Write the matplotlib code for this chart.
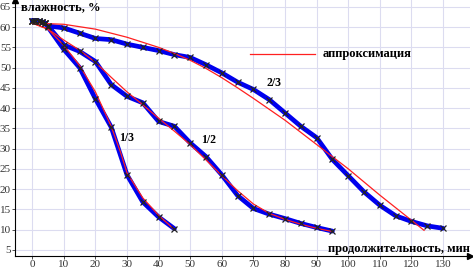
import numpy as np
import matplotlib.pyplot as plt

# measured curves (time, min / moisture, %)
t_13 = [0, 1, 2, 3, 4, 5, 10, 15, 20, 25, 30, 35, 40, 45]
w_13 = [61.6, 61.6, 61.5, 61.3, 61.0, 60.0, 54.5, 50.0, 42.3, 35.3, 23.5, 16.8, 13.1, 10.2]

t_12 = [0, 1, 2, 3, 4, 5, 10, 15, 20, 25, 30, 35, 40, 45, 50, 55, 60, 65, 70, 75, 80, 85, 90, 95]
w_12 = [61.6, 61.6, 61.5, 61.3, 61.0, 60.3, 55.6, 54.0, 51.5, 45.8, 42.9, 41.3, 36.7, 35.5,
        31.4, 28.0, 23.5, 18.4, 15.2, 13.8, 12.7, 11.5, 10.5, 9.6]

t_23 = [0, 1, 2, 3, 4, 5, 10, 15, 20, 25, 30, 35, 40, 45, 50, 55, 60, 65, 70, 75, 80, 85,
        90, 95, 100, 105, 110, 115, 120, 125, 130]
w_23 = [61.6, 61.6, 61.5, 61.3, 61.0, 60.3, 59.8, 58.5, 57.2, 56.9, 55.8, 55.0, 54.2, 53.2,
        52.5, 50.7, 48.7, 46.4, 44.6, 42.1, 38.8, 35.5, 32.7, 27.3, 23.3, 19.3, 16.0, 13.4,
        12.0, 10.9, 10.3]

# approximation curves
ta_13 = [0, 5, 10, 15, 20, 25, 28, 30, 35, 40, 45]
wa_13 = [61.0, 59.5, 55.5, 50.5, 44.0, 35.5, 29.0, 24.0, 17.8, 13.5, 10.0]

ta_12 = [0, 5, 10, 15, 20, 25, 30, 35, 40, 45, 50, 55, 60, 65, 70, 75, 80, 85, 90, 95]
wa_12 = [61.0, 59.5, 56.8, 54.3, 51.3, 47.6, 44.0, 40.8, 37.5, 34.3, 31.0, 27.2, 23.3, 19.6,
         16.3, 14.0, 12.5, 11.3, 10.3, 9.5]

ta_23 = [0, 10, 20, 30, 40, 45, 50, 55, 60, 65, 70, 80, 90, 100, 110, 120, 124]
wa_23 = [61.0, 60.7, 59.5, 57.5, 55.0, 53.5, 51.8, 49.8, 47.5, 45.0, 42.4, 37.0, 31.0, 25.0,
         18.5, 12.3, 9.8]

plt.rcParams['font.family'] = ['Liberation Serif', 'DejaVu Serif']

fig = plt.figure(figsize=(4.73, 2.72), dpi=100)
ax = fig.add_axes([0.032, 0.058, 0.962, 0.942])
ax.set_xlim(-5.4, 138.6)
ax.set_ylim(3.4, 66.7)

ax.set_xticks(range(0, 131, 10))
ax.set_yticks(range(5, 66, 5))
ax.grid(True, color='#dcdcf0', lw=0.8)
ax.set_axisbelow(True)
ax.tick_params(labelsize=8, length=2, width=0.6, pad=1, colors='#333333')
ax.tick_params(axis='x', pad=0.5)
for s in ['top', 'right']:
    ax.spines[s].set_visible(False)
for s in ['left', 'bottom']:
    ax.spines[s].set_linewidth(0.8)
ax.plot(1, 0, '>k', ms=4, transform=ax.transAxes, clip_on=False)
ax.plot(0, 1, '^k', ms=4, transform=ax.transAxes, clip_on=False)

for t, w in [(t_13, w_13), (t_12, w_12), (t_23, w_23)]:
    ax.plot(t, w, color='#0000ee', lw=3.4, solid_joinstyle='round', solid_capstyle='round', zorder=2)
    ax.plot(t, w, 'x', color='#222222', ms=4.5, mew=0.9, zorder=4)

for t, w in [(ta_13, wa_13), (ta_12, wa_12), (ta_23, wa_23)]:
    ax.plot(t, w, color='#ff2020', lw=0.9, zorder=3)

ax.plot([69, 89.5], [53.3, 53.3], color='#ff2020', lw=0.9)
ax.text(92, 53.3, 'аппроксимация', fontsize=9, fontweight='bold', va='center')

ax.text(27.5, 32.5, '1/3', fontsize=8.5, fontweight='bold', va='center')
ax.text(53.5, 32.2, '1/2', fontsize=8.5, fontweight='bold', va='center')
ax.text(74, 46.2, '2/3', fontsize=8.5, fontweight='bold', va='center')

ax.text(-3.7, 65, 'влажность, %', fontsize=9, fontweight='bold', va='center')
ax.text(138.6, 5.3, 'продолжительность, мин', fontsize=9, fontweight='bold',
        va='center', ha='right')

fig.savefig('out.png', dpi=100)
